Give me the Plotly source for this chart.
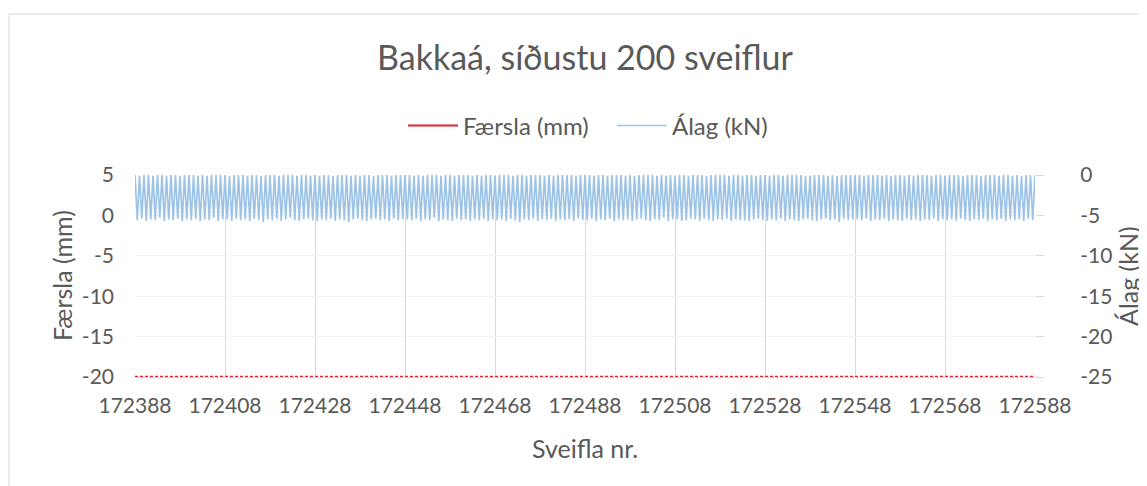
import plotly.graph_objects as go

# ---- data ----
cycles = list(range(172388, 172589))          # 201 cycle numbers (peaks at each)
x_ticks = list(range(172388, 172589, 20))
y_left_ticks = [-20, -15, -10, -5, 0, 5]
y_right_ticks = [-25, -20, -15, -10, -5, 0]

# load peaks (kN) at each cycle number
load_peak = [
    0.0, -0.1, 0.0, 0.0, -0.1, 0.0, 0.0, -0.1, 0.0, 0.0,
    -0.1, 0.0, 0.0, 0.0, -0.1, 0.0, -0.1, 0.0, 0.0, 0.0,
    0.0, -0.1, 0.0, 0.0, 0.0, -0.1, 0.0, 0.0, -0.1, 0.0,
    0.0, 0.0, -0.1, 0.0, 0.0, 0.0, -0.1, 0.0, 0.0, -0.1,
    0.0, -0.1, 0.0, 0.0, -0.1, 0.0, 0.0, 0.0, -0.1, 0.0,
    -0.1, 0.0, 0.0, -0.1, 0.0, 0.0, 0.0, -0.1, 0.0, 0.0,
    0.0, 0.0, -0.1, 0.0, -0.1, 0.0, 0.0, 0.0, -0.1, 0.0,
    0.0, -0.1, 0.0, 0.0, 0.0, -0.1, 0.0, -0.1, 0.0, 0.0,
    -0.1, 0.0, 0.0, 0.0, -0.1, 0.0, 0.0, -0.1, 0.0, 0.0,
    0.0, -0.1, 0.0, -0.1, 0.0, 0.0, 0.0, 0.0, -0.1, 0.0,
    0.0, 0.0, -0.1, 0.0, 0.0, -0.1, 0.0, 0.0, 0.0, -0.1,
    0.0, -0.1, 0.0, 0.0, 0.0, 0.0, -0.1, 0.0, -0.1, 0.0,
    -0.1, 0.0, 0.0, -0.1, 0.0, 0.0, 0.0, -0.1, 0.0, 0.0,
    0.0, 0.0, -0.1, 0.0, 0.0, -0.1, 0.0, 0.0, -0.1, 0.0,
    0.0, -0.1, 0.0, 0.0, -0.1, 0.0, 0.0, 0.0, 0.0, -0.1,
    -0.1, 0.0, 0.0, 0.0, -0.1, 0.0, -0.1, 0.0, 0.0, 0.0,
    0.0, 0.0, -0.1, 0.0, 0.0, 0.0, -0.1, 0.0, -0.1, 0.0,
    0.0, -0.1, 0.0, -0.1, 0.0, 0.0, 0.0, -0.1, 0.0, 0.0,
    -0.1, 0.0, 0.0, 0.0, -0.1, 0.0, 0.0, 0.0, -0.1, 0.0,
    0.0, 0.0, -0.1, 0.0, 0.0, -0.1, 0.0, -0.1, 0.0, 0.0,
    0.0,
]

# load troughs (kN), one per cycle, half a cycle after each peak
load_trough = [
    -5.6, -5.4, -5.7, -5.5, -5.6, -5.3, -5.7, -5.5, -5.6, -5.4,
    -5.7, -5.5, -5.6, -5.4, -5.7, -5.5, -5.6, -5.3, -5.7, -5.5,
    -5.5, -5.7, -5.4, -5.6, -5.5, -5.7, -5.4, -5.6, -5.8, -5.5,
    -5.6, -5.4, -5.7, -5.5, -5.3, -5.6, -5.7, -5.5, -5.4, -5.6,
    -5.7, -5.5, -5.6, -5.4, -5.7, -5.5, -5.6, -5.8, -5.5, -5.4,
    -5.6, -5.7, -5.5, -5.4, -5.6, -5.5, -5.7, -5.4, -5.6, -5.5,
    -5.5, -5.6, -5.4, -5.7, -5.5, -5.6, -5.3, -5.7, -5.5, -5.6,
    -5.7, -5.4, -5.6, -5.5, -5.7, -5.5, -5.6, -5.4, -5.7, -5.5,
    -5.6, -5.5, -5.7, -5.4, -5.6, -5.8, -5.5, -5.6, -5.4, -5.7,
    -5.5, -5.6, -5.4, -5.7, -5.5, -5.6, -5.5, -5.7, -5.4, -5.6,
    -5.6, -5.4, -5.7, -5.5, -5.6, -5.4, -5.7, -5.5, -5.6, -5.5,
    -5.7, -5.5, -5.4, -5.6, -5.7, -5.5, -5.6, -5.3, -5.7, -5.5,
    -5.5, -5.7, -5.6, -5.4, -5.5, -5.7, -5.4, -5.6, -5.7, -5.5,
    -5.6, -5.4, -5.7, -5.5, -5.6, -5.6, -5.7, -5.5, -5.4, -5.6,
    -5.7, -5.5, -5.6, -5.4, -5.7, -5.5, -5.6, -5.7, -5.5, -5.4,
    -5.6, -5.7, -5.5, -5.4, -5.6, -5.5, -5.8, -5.4, -5.6, -5.5,
    -5.5, -5.6, -5.4, -5.7, -5.5, -5.6, -5.4, -5.7, -5.5, -5.6,
    -5.7, -5.4, -5.6, -5.5, -5.7, -5.5, -5.6, -5.4, -5.7, -5.5,
    -5.6, -5.5, -5.7, -5.4, -5.6, -5.7, -5.5, -5.6, -5.4, -5.7,
    -5.5, -5.6, -5.4, -5.7, -5.5, -5.6, -5.5, -5.7, -5.4, -5.6,
]

# displacement (mm) at each cycle number
disp = [
    -20.0, -20.0, -20.0, -20.0, -20.0, -20.0, -20.0, -20.0, -20.0, -20.0,
    -20.0, -20.0, -20.0, -20.0, -20.0, -20.0, -20.0, -20.0, -20.0, -20.0,
    -20.0, -20.0, -20.0, -20.0, -20.0, -20.0, -20.0, -20.0, -20.0, -20.0,
    -20.0, -20.0, -20.0, -20.0, -20.0, -20.0, -20.0, -20.0, -20.0, -20.0,
    -20.0, -20.0, -20.0, -20.0, -20.0, -20.0, -20.0, -20.0, -20.0, -20.0,
    -20.0, -20.0, -20.0, -20.0, -20.0, -20.0, -20.0, -20.0, -20.0, -20.0,
    -20.0, -20.0, -20.0, -20.0, -20.0, -20.0, -20.0, -20.0, -20.0, -20.0,
    -20.0, -20.0, -20.0, -20.0, -20.0, -20.0, -20.0, -20.0, -20.0, -20.0,
    -20.0, -20.0, -20.0, -20.0, -20.0, -20.0, -20.0, -20.0, -20.0, -20.0,
    -20.0, -20.0, -20.0, -20.0, -20.0, -20.0, -20.0, -20.0, -20.0, -20.0,
    -20.0, -20.0, -20.0, -20.0, -20.0, -20.0, -20.0, -20.0, -20.0, -20.0,
    -20.0, -20.0, -20.0, -20.0, -20.0, -20.0, -20.0, -20.0, -20.0, -20.0,
    -20.0, -20.0, -20.0, -20.0, -20.0, -20.0, -20.0, -20.0, -20.0, -20.0,
    -20.0, -20.0, -20.0, -20.0, -20.0, -20.0, -20.0, -20.0, -20.0, -20.0,
    -20.0, -20.0, -20.0, -20.0, -20.0, -20.0, -20.0, -20.0, -20.0, -20.0,
    -20.0, -20.0, -20.0, -20.0, -20.0, -20.0, -20.0, -20.0, -20.0, -20.0,
    -20.0, -20.0, -20.0, -20.0, -20.0, -20.0, -20.0, -20.0, -20.0, -20.0,
    -20.0, -20.0, -20.0, -20.0, -20.0, -20.0, -20.0, -20.0, -20.0, -20.0,
    -20.0, -20.0, -20.0, -20.0, -20.0, -20.0, -20.0, -20.0, -20.0, -20.0,
    -20.0, -20.0, -20.0, -20.0, -20.0, -20.0, -20.0, -20.0, -20.0, -20.0,
    -20.0,
]

# ---- build the load signal: peak at each cycle, trough half a cycle later ----
load_x, load_y = [], []
for i in range(len(load_trough)):
    load_x += [cycles[i], cycles[i] + 0.5]
    load_y += [load_peak[i], load_trough[i]]
load_x.append(cycles[-1])
load_y.append(load_peak[-1])

FONT = "Lato, 'Open Sans', sans-serif"
GREY = "#595959"
W, H = 1139, 478   # page body adds an 8 px offset

fig = go.Figure()
fig.add_trace(go.Scatter(
    x=cycles, y=disp, name="Færsla (mm)", mode="lines", showlegend=False,
    line=dict(color="#E8202A", width=2.6, dash="3px,2px"), yaxis="y"))
fig.add_trace(go.Scatter(
    x=load_x, y=load_y, name="Álag (kN)", mode="lines", legendrank=2,
    line=dict(color="#9DC3E6", width=1.7), yaxis="y2"))
fig.add_trace(go.Scatter(
    x=[None], y=[None], name="Færsla (mm)", mode="lines", legendrank=1,
    line=dict(color="#E8202A", width=2.2), yaxis="y"))

fig.update_layout(
    width=W, height=H,
    margin=dict(l=127, r=112, t=167, b=109),
    paper_bgcolor="white", plot_bgcolor="white",
    font=dict(family=FONT, color=GREY, size=21),
    title=dict(text="Bakkaá, síðustu 200 sveiflur", x=(585 - 8) / W, xanchor="center",
               y=1 - 50 / H, yanchor="middle",
               font=dict(size=34, color=GREY, family=FONT)),
    showlegend=True,
    legend=dict(orientation="h", x=(403 - 135) / 900, xanchor="left", y=1.243, yanchor="middle",
                font=dict(size=24, color=GREY), bgcolor="rgba(0,0,0,0)",
                itemwidth=50, entrywidth=144, entrywidthmode="pixels", tracegroupgap=0),
    xaxis=dict(range=[172388, 172588], tickvals=x_ticks, ticktext=[str(v) for v in x_ticks],
               showgrid=True, gridcolor="#D9D9D9", gridwidth=1, zeroline=False,
               showline=True, linecolor="#D9D9D9", ticks="", ticklabelstandoff=10,
               tickfont=dict(size=21, color=GREY)),
    yaxis=dict(range=[-20, 5], tickvals=y_left_ticks, ticktext=[str(v) for v in y_left_ticks],
               showgrid=True, gridcolor="#F2F2F2", zeroline=False,
               showline=False, ticks="", ticklabelstandoff=20,
               tickfont=dict(size=21, color=GREY)),
    yaxis2=dict(range=[-25, 0], tickvals=y_right_ticks, ticktext=[str(v) for v in y_right_ticks],
                overlaying="y", side="right",
                showgrid=False, zeroline=False, showline=False,
                ticks="outside", ticklen=8, tickcolor="#D9D9D9", ticklabelstandoff=32,
                tickfont=dict(size=21, color=GREY)),
    annotations=[
        dict(text="Færsla (mm)", xref="paper", yref="paper", x=(62 - 135) / 900,
             y=0.5, textangle=-90, showarrow=False, xanchor="center", yanchor="middle",
             font=dict(size=25, color=GREY)),
        dict(text="Álag (kN)", xref="paper", yref="paper", x=(1128 - 135) / 900,
             y=0.5, textangle=-90, showarrow=False, xanchor="center", yanchor="middle",
             font=dict(size=25, color=GREY)),
        dict(text="Sveifla nr.", xref="paper", yref="paper", x=(585 - 135) / 900,
             y=(377 - 448) / 202, showarrow=False, xanchor="center", yanchor="middle",
             font=dict(size=25, color=GREY)),
    ],
    shapes=[
        dict(type="rect", xref="paper", yref="paper",
             x0=(9 - 135) / 900, x1=(1160 - 135) / 900,
             y0=(377 - 500) / 202, y1=(377 - 14) / 202,
             line=dict(color="#D9D9D9", width=1), fillcolor="rgba(0,0,0,0)", layer="below"),
    ],
)

fig.write_html("out.html")
